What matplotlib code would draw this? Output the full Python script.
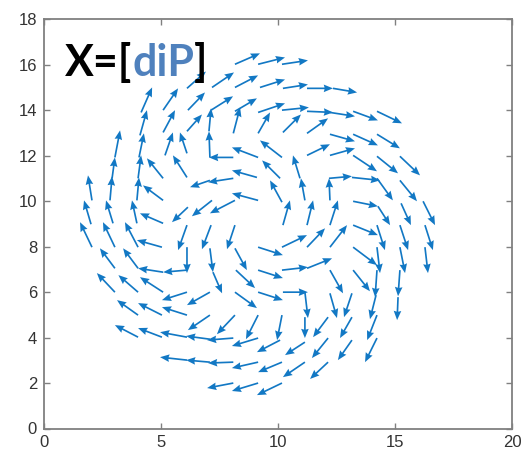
import numpy as np
import matplotlib
matplotlib.use("Agg")
import matplotlib.pyplot as plt

plt.rcParams['font.family'] = ['Liberation Sans', 'DejaVu Sans']

# arrow tails (data units)
tail_x = [
    8.16, 9.15, 10.17,
    6.11, 7.18, 8.16, 9.23, 10.21, 11.24, 12.35,
    6.15, 7.14, 8.16, 9.15, 10.17, 11.24, 12.22, 13.21, 14.23,
    4.15, 5.09, 4.10, 5.09, 6.11, 4.06, 5.17, 6.11, 4.02, 3.97, 3.97,
    3.03, 2.91, 2.82, 2.95, 2.05, 2.01,
    5.09, 6.11, 5.09, 5.09, 6.15, 7.18, 8.16, 8.09, 7.09, 9.10, 9.15, 10.09, 10.17,
    8.09, 7.09, 7.05, 9.15, 10.17, 8.09, 9.15, 10.21, 11.24, 11.24,
    12.22, 13.21, 14.23, 12.22, 13.21, 14.23, 15.21,
    10.94, 11.15, 12.22, 12.18, 13.16, 14.23, 15.21, 13.21, 14.27, 15.26, 16.20,
    10.21, 11.24, 12.22,
    13.21, 14.23, 15.21, 16.28, 13.21, 14.23, 15.21, 16.28,
    10.17, 11.24, 12.22, 9.15, 9.15, 9.15, 10.17, 11.24, 10.21, 11.15, 11.15,
    12.22, 13.21, 14.23, 15.21, 12.22, 13.16, 14.19, 15.13,
    12.14, 13.16, 14.23, 12.14, 13.16, 14.23, 12.14, 11.15, 11.15,
    10.09, 10.17, 10.17, 9.15, 8.09, 9.15, 8.09, 7.09, 6.11,
    9.15, 8.09, 7.09, 6.11, 5.04, 4.02,
    10.17, 9.15, 8.16, 7.09, 6.11, 5.04, 4.02,
    8.16, 7.09, 6.11, 5.09, 4.02, 3.03,
    8.20, 7.22, 7.09, 8.16, 6.11, 6.11, 5.09, 4.02, 3.03,
    5.04, 4.02, 3.03, 2.05, 6.11, 7.14, 8.16,
]
tail_y = [
    16.03, 16.03, 16.03,
    14.97, 15.01, 15.01, 15.01, 14.97, 14.97, 14.97,
    14.01, 14.01, 13.96, 13.91, 14.01, 13.96, 13.91, 13.96, 13.96,
    13.91, 14.01, 12.90, 13.03, 13.08, 11.93, 12.02, 12.11, 11.01, 10.04, 9.03,
    11.93, 11.01, 10.04, 9.03, 10.04, 8.99,
    11.01, 11.05, 10.04, 9.03, 9.74, 10.04, 10.04, 11.01, 10.92, 11.05, 10.04, 11.01, 9.96,
    11.93, 11.93, 13.08, 11.93, 11.93, 12.99, 12.99, 13.03, 12.99, 12.02,
    12.95, 12.95, 12.95, 12.02, 12.02, 11.98, 11.98,
    11.01, 10.04, 10.04, 11.01, 11.05, 11.01, 10.92, 10.00, 9.78, 9.91, 10.00,
    8.95, 8.95, 8.95,
    8.95, 8.95, 8.95, 8.95, 7.98, 7.98, 7.98, 7.98,
    7.98, 7.98, 7.98, 7.98, 6.97, 6.00, 6.97, 7.05, 6.00, 6.00, 4.90,
    6.97, 6.97, 6.97, 6.97, 5.95, 5.95, 5.87, 5.78,
    4.90, 4.90, 4.99, 3.98, 3.89, 3.98, 2.92, 3.80, 2.92,
    3.89, 2.92, 2.00, 2.00, 2.00, 2.92, 2.92, 2.92, 3.01,
    3.98, 3.98, 3.93, 4.02, 4.02, 4.02,
    4.99, 4.99, 4.99, 4.99, 4.99, 4.99, 4.99,
    6.00, 6.00, 6.00, 6.00, 6.00, 6.00,
    6.97, 6.88, 7.93, 7.93, 7.98, 6.97, 6.88, 7.05, 7.05,
    7.98, 7.98, 7.98, 7.98, 8.95, 8.95, 8.95,
]
# arrow heads (data units)
head_x = [
    9.23, 10.30, 11.28,
    6.92, 8.12, 9.15, 10.30, 11.28, 12.35, 13.38,
    6.88, 8.08, 9.10, 10.30, 11.32, 12.35, 13.29, 14.27, 15.30,
    4.62, 5.73, 4.40, 5.60, 6.75, 4.27, 5.51, 5.81, 4.15, 4.06, 3.76,
    3.25, 3.03, 2.91, 2.65, 1.88, 1.71,
    4.40, 5.51, 4.23, 4.10, 5.47, 6.32, 7.09, 7.01, 6.24, 8.03, 8.03, 9.32, 9.66,
    7.05, 7.05, 7.14, 8.03, 9.23, 8.38, 9.66, 10.98, 12.14, 12.22,
    13.29, 14.27, 15.21, 13.29, 14.23, 15.13, 16.07,
    10.64, 10.98, 12.18, 13.16, 14.36, 14.91, 15.94, 14.27, 14.79, 15.68, 16.71,
    10.51, 11.50, 12.56,
    14.27, 14.57, 15.56, 16.62, 14.23, 14.36, 15.43, 16.41,
    11.24, 12.01, 12.95, 10.21, 10.21, 10.21, 11.28, 12.31, 11.28, 11.28, 11.15,
    12.78, 13.93, 14.15, 15.13, 12.52, 12.82, 13.93, 15.09,
    11.50, 12.65, 13.81, 11.45, 12.56, 13.72, 11.37, 10.30, 10.21,
    9.10, 9.15, 9.10, 8.03, 6.97, 8.03, 7.01, 6.07, 4.96,
    8.03, 6.97, 6.07, 4.96, 4.02, 3.03,
    9.96, 8.63, 7.39, 6.15, 5.04, 4.02, 3.12,
    9.10, 6.11, 5.04, 4.10, 3.18, 2.26,
    9.02, 7.61, 7.22, 8.67, 6.11, 5.09, 4.02, 3.38, 2.39,
    3.97, 3.46, 2.52, 1.54, 5.73, 6.75, 7.82,
]
head_y = [
    16.51, 16.33, 16.20,
    15.71, 15.67, 15.54, 15.36, 15.14, 14.97, 14.79,
    14.79, 14.62, 14.53, 14.31, 14.13, 13.91, 13.74, 13.56, 13.43,
    15.01, 14.97, 14.01, 14.01, 13.82, 12.99, 13.03, 13.03, 12.02, 11.05, 10.04,
    13.12, 11.93, 11.10, 10.04, 11.14, 10.04,
    11.89, 12.02, 10.70, 9.47, 9.08, 9.34, 9.47, 10.84, 10.62, 11.36, 10.35, 11.80, 10.92,
    11.93, 13.08, 14.09, 12.37, 12.68, 14.13, 13.91, 13.82, 13.65, 12.51,
    12.64, 12.46, 12.33, 12.33, 11.32, 11.23, 11.14,
    12.02, 11.01, 11.01, 11.10, 10.92, 10.04, 10.00, 9.78, 8.95, 8.95, 8.95,
    10.04, 10.04, 10.04,
    8.51, 7.85, 7.85, 7.85, 7.19, 6.84, 6.84, 6.84,
    8.51, 8.81, 8.95, 7.63, 6.62, 5.65, 7.10, 7.49, 6.00, 4.86, 3.98,
    5.95, 6.04, 5.78, 5.82, 4.86, 4.90, 4.81, 4.77,
    4.02, 3.98, 3.89, 3.10, 3.01, 2.92, 2.18, 3.23, 2.26,
    3.36, 2.48, 1.47, 1.65, 1.78, 2.66, 2.88, 3.01, 3.14,
    3.63, 3.89, 4.07, 4.24, 4.42, 4.55,
    3.89, 3.93, 4.15, 4.33, 5.34, 5.52, 5.65,
    5.30, 5.43, 5.65, 6.66, 6.75, 6.84,
    6.18, 5.95, 6.88, 6.97, 6.84, 6.88, 7.05, 7.93, 7.93,
    8.29, 9.08, 9.08, 9.08, 7.85, 7.89, 7.89,
]

x0 = np.array(tail_x)
y0 = np.array(tail_y)
u = np.array(head_x) - x0
v = np.array(head_y) - y0

fig = plt.figure(figsize=(5.29, 4.62), dpi=100)
ax = fig.add_axes([44 / 529, 33.5 / 462, 468 / 529, 409 / 462])

ax.quiver(x0, y0, u, v, angles='xy', scale_units='xy', scale=1,
          color='#1278C4', width=0.0036, headwidth=4.5, headlength=5.5,
          headaxislength=5)

ax.set_xlim(0, 20)
ax.set_ylim(0, 18)
ax.set_xticks(np.arange(0, 21, 5))
ax.set_yticks(np.arange(0, 19, 2))
ax.tick_params(direction='in', top=True, right=True, length=4, width=1,
               color='#808080', labelsize=12, labelcolor='#333333', pad=5)
for s in ax.spines.values():
    s.set_color('#808080')
    s.set_linewidth(1.3)

# label drawn inside the axes, "diP" in blue
t1 = fig.text(65 / 529, 386 / 462, 'X=[', fontsize=31, fontweight='bold',
              family=['Lato', 'DejaVu Sans'], color='black', va='baseline')
t2 = ax.annotate('diP', xy=(1, 0), xycoords=t1, va='bottom', ha='left',
                 fontsize=31, fontweight='bold', family=['Lato', 'DejaVu Sans'],
                 color='#4F81BD')
t3 = ax.annotate(']', xy=(1, 0), xycoords=t2, va='bottom', ha='left',
                 fontsize=31, fontweight='bold', family=['Lato', 'DejaVu Sans'],
                 color='black')

fig.savefig('out.png', dpi=100)
